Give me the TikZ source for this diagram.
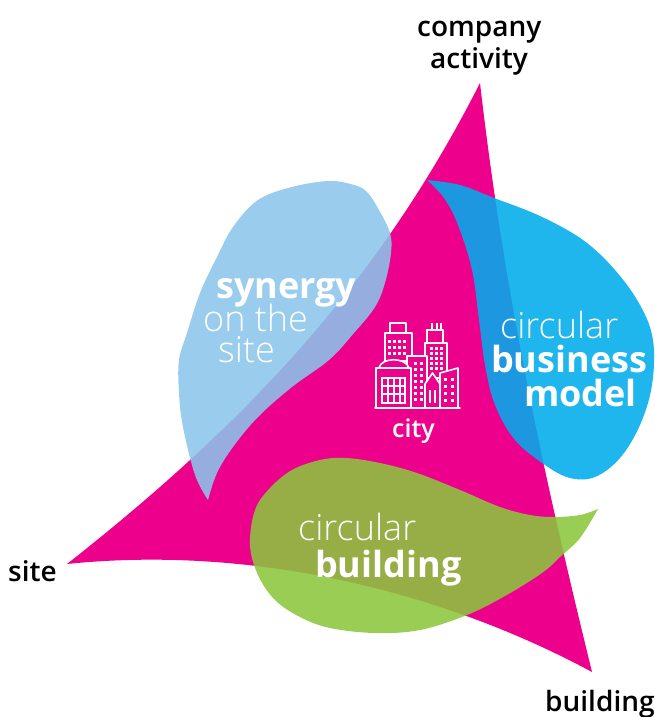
\documentclass[tikz,border=0pt]{standalone}
\usepackage{fontspec}
\setmainfont{Open Sans}
\newfontfamily\lightfont{Open Sans Light}
\newfontfamily\semifont{Open Sans Semibold}
\definecolor{cmagenta}{RGB}{236,0,140}
\definecolor{clight}{RGB}{139,197,235}
\definecolor{ccyan}{RGB}{0,172,236}
\definecolor{cgreen}{RGB}{140,198,60}

\begin{document}
\begin{tikzpicture}[x=1pt,y=-1pt,
  blob/.style={fill opacity=0.88},
  corner/.style={inner sep=0pt,anchor=base west,font=\semifont\fontsize{28}{32}\selectfont},
  boldlbl/.style={inner sep=0pt,anchor=base west,text=white,font=\bfseries\fontsize{36}{40}\selectfont},
  lightlbl/.style={inner sep=0pt,anchor=base west,text=white,font=\lightfont\fontsize{36}{40}\selectfont},
  icon/.style={draw=white,line width=1.6pt,fill=cmagenta,line join=round}]
\useasboundingbox (0,0) rectangle (654,717);
% the triangle
\fill[cmagenta] (480,83) .. controls (380,280) and (250,420) .. (67,564)
  .. controls (250,545) and (440,590) .. (592,672)
  .. controls (545,480) and (505,300) .. cycle;
% synergy blob
\fill[clight,blob] plot[smooth,tension=0.6] coordinates {(208,500) (195,475) (183,427) (179,393)
  (179,360) (187,333) (200,293) (217,257) (233,227) (258,200) (292,187) (329,181) (354,185)
  (367,192) (379,210) (390,233) (391,253) (385,283) (375,307) (354,333) (329,360) (292,387)
  (258,417) (233,447) (217,473) (208,500)} -- cycle;
% business model blob
\fill[ccyan,blob] plot[smooth,tension=0.6] coordinates {(427,180) (460,185) (494,198) (540,216)
  (583,240) (615,270) (640,305) (653,340) (652,385) (640,425) (620,458) (595,477) (570,478)
  (545,465) (515,440) (495,405) (485,365) (479,320) (472,270) (458,225) (444,198) (427,180)} -- cycle;
% building blob
\fill[cgreen,blob] plot[smooth,tension=0.6] coordinates {(598,509) (580,538) (560,557) (542,573)
  (505,596) (467,615) (420,630) (375,633) (330,628) (300,617) (275,600) (258,575) (250,545)
  (255,510) (270,488) (292,470) (320,460) (346,458) (380,463) (417,473) (460,490) (500,507)
  (530,515) (554,517) (580,515) (598,509)} -- cycle;
% city icon
\draw[icon] (390,323) rectangle (406,333);
\draw[icon] (385,333) rectangle (412,361);
\foreach \x in {388,393,398,403}
\foreach \y in {340,346,352}
\fill[white] (\x,\y) rectangle +(2.6,2.6);
\foreach \x in {432,437,441}
\draw[white,line width=1.6pt] (\x,330) -- (\x,323);
\draw[icon] (427,330) rectangle (443,343);
\draw[icon] (425,343) rectangle (447,378);
\foreach \x in {430,435,440}
\foreach \y in {347,352,357,362,367}
\fill[white] (\x,\y) rectangle +(2.6,2.6);
\draw[icon] (407,356) rectangle (427,408);
\foreach \x in {414,420}
\foreach \y in {362,368,374,380,386,392,398}
\fill[white] (\x,\y) rectangle +(2.6,2.6);
\draw[icon] (379,368) .. controls (381,357) and (406,357) .. (409,368);
\draw[icon] (376,368) rectangle (411,408);
\draw[white,line width=1.6pt] (382,378) rectangle (405,403);
\foreach \x in {388,394,400}
\draw[white,line width=1.4pt] (\x,378) -- (\x,403);
\foreach \y in {386,394}
\draw[white,line width=1.4pt] (382,\y) -- (405,\y);
\draw[icon] (425,408) -- (425,384) -- (432.5,373) -- (440,384) -- (440,408);
\draw[white,line width=1.4pt] (430,390) -- (430,403) (435,390) -- (435,403);
\draw[icon] (440,408) -- (440,373) -- (458,368) -- (458,408);
\foreach \x in {444,451}
\foreach \y in {378,385,392,399}
\fill[white] (\x,\y) rectangle +(2.6,2.6);
\draw[white,line width=1.6pt,line cap=round] (375,408) -- (460,408);
% labels
\node[corner] (company) at (417,37) {company};
\node[corner] (activity) at (430,68) {activity};
\node[corner] (site) at (8,581) {site};
\node[corner] (building) at (545,711) {building};
\node[boldlbl] (synergy) at (216,298) {synergy};
\node[lightlbl] (onthe) at (203,331) {on the};
\node[lightlbl] (onsite) at (218,362) {site};
\node[lightlbl] (circbm) at (500,338) {circular};
\node[boldlbl] (business) at (491,372) {business};
\node[boldlbl] (model) at (524,406) {model};
\node[lightlbl] (circbu) at (298,540) {circular};
\node[boldlbl] (bldg) at (315,577) {building};
\node[corner,text=white,font=\semifont\fontsize{25}{28}\selectfont] (city) at (392,437) {city};
\end{tikzpicture}
\end{document}
